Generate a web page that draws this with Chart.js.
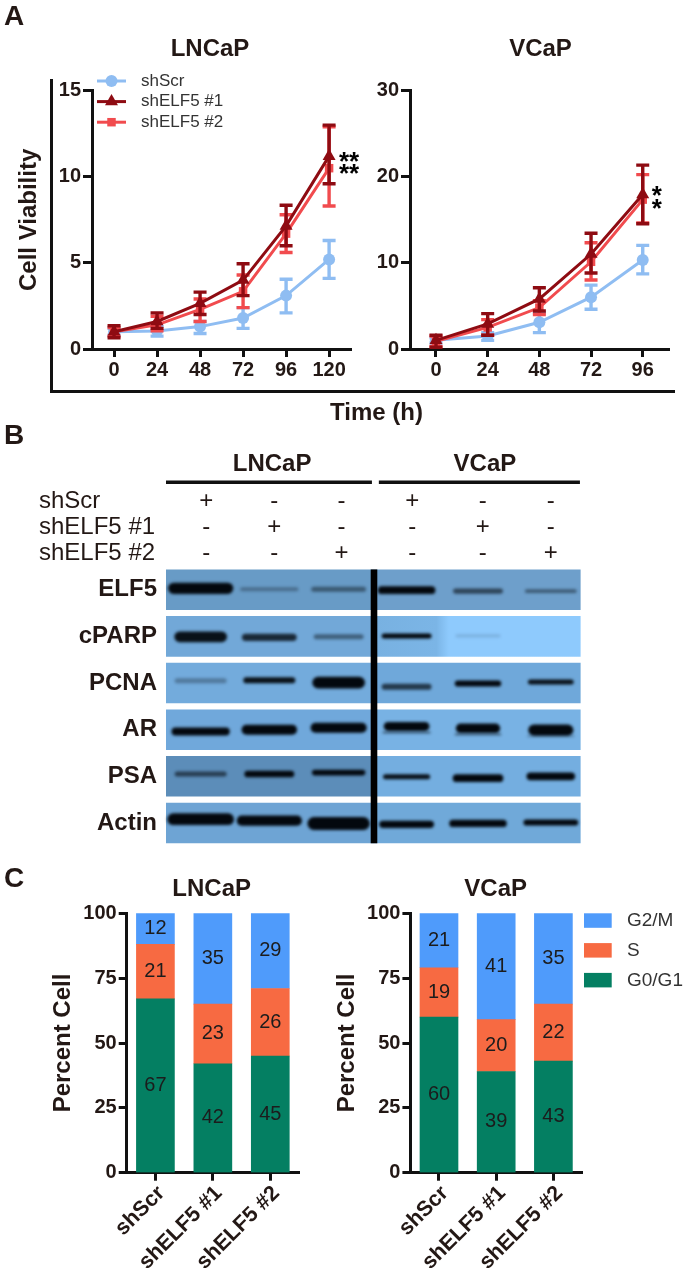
<!DOCTYPE html>
<html lang="en">
<head>
<meta charset="UTF-8">
<title>ELF5 knockdown figure</title>
<script src="https://cdn.jsdelivr.net/npm/chart.js"></script>
<style>
    html, body { margin: 0; padding: 0; background: #fff; }
    #page { position: relative; width: 685px; height: 1272px; overflow: hidden; font-family: "Liberation Sans", Arial, sans-serif; color: #231815; }
    #page canvas { position: absolute; }
    .letter { position: absolute; font-weight: bold; font-size: 28px; line-height: 32px; }
    .line { position: absolute; background: #111; }
</style>
</head>
<body>
<div id="page">
    <canvas id="cellLn"></canvas>
    <canvas id="cellVc"></canvas>
    <canvas id="blot"></canvas>
    <canvas id="cycleLn"></canvas>
    <canvas id="cycleVc"></canvas>
    <div class="line" style="left:50px;top:79px;width:3px;height:314px"></div>
    <div class="line" style="left:50px;top:390px;width:625px;height:3px"></div>
    <div class="letter" style="left:4px;top:0px">A</div>
    <div class="letter" style="left:4px;top:419px">B</div>
    <div class="letter" style="left:4px;top:862px">C</div>
    <div style="position:absolute;left:330px;top:398px;font:bold 24px/28px 'Liberation Sans'">Time (h)</div>
</div>

<script>
    // Panel A: cell viability
    var hoursLn = [0, 24, 48, 72, 96, 120];
    var hoursVc = [0, 24, 48, 72, 96];
    var seriesNames = ['shScr', 'shELF5 #1', 'shELF5 #2'];

    var lnScr = [1.0, 1.05, 1.3, 1.8, 3.1, 5.2];
    var lnScrLow = [0.8, 0.75, 0.9, 1.2, 2.1, 4.1];
    var lnScrHigh = [1.2, 1.3, 1.6, 2.4, 4.05, 6.3];
    var lnOne = [1.0, 1.6, 2.65, 4.0, 7.15, 11.2];
    var lnOneLow = [0.65, 1.2, 2.0, 3.1, 6.0, 9.6];
    var lnOneHigh = [1.35, 2.1, 3.3, 4.95, 8.35, 13.0];
    var lnTwo = [1.0, 1.4, 2.3, 3.35, 6.7, 10.5];
    var lnTwoLow = [0.75, 1.05, 1.6, 2.4, 5.6, 8.3];
    var lnTwoHigh = [1.25, 1.9, 2.9, 4.3, 7.8, 12.9];

    var vcScr = [1.0, 1.5, 3.1, 6.0, 10.3];
    var vcScrLow = [0.7, 1.0, 1.9, 4.6, 8.7];
    var vcScrHigh = [1.3, 1.9, 4.2, 7.4, 12.0];
    var vcOne = [1.0, 2.9, 5.8, 11.0, 17.9];
    var vcOneLow = [0.2, 1.6, 4.4, 8.8, 14.5];
    var vcOneHigh = [1.6, 4.1, 7.1, 13.4, 21.3];
    var vcTwo = [0.9, 2.5, 4.8, 10.1, 17.3];
    var vcTwoLow = [0.3, 1.6, 4.0, 8.0, 14.6];
    var vcTwoHigh = [1.5, 3.4, 5.6, 12.3, 20.2];

    // Panel B: band density, thickness, width and vertical drift per lane
    var blotRows = ['ELF5', 'cPARP', 'PCNA', 'AR', 'PSA', 'Actin'];
    var treatmentRows = ['shScr', 'shELF5 #1', 'shELF5 #2'];
    var scrSigns = ['+', '-', '-', '+', '-', '-'];
    var oneSigns = ['-', '+', '-', '-', '+', '-'];
    var twoSigns = ['-', '-', '+', '-', '-', '+'];

    var elf5Density = [1, 0.3, 0.45, 1, 0.6, 0.45];
    var cparpDensity = [0.95, 0.8, 0.45, 1, 0.12, 0];
    var pcnaDensity = [0.3, 0.95, 1, 0.7, 1, 0.95];
    var arDensity = [1, 1, 1, 1, 1, 1];
    var psaDensity = [0.6, 1, 1, 0.95, 1, 1];
    var actinDensity = [1, 1, 1, 1, 1, 1];

    var elf5Thick = [0.2, 0.07, 0.09, 0.14, 0.09, 0.07];
    var cparpThick = [0.19, 0.13, 0.09, 0.09, 0.06, 0];
    var pcnaThick = [0.09, 0.11, 0.21, 0.11, 0.11, 0.09];
    var arThick = [0.14, 0.18, 0.18, 0.16, 0.17, 0.2];
    var psaThick = [0.09, 0.12, 0.1, 0.09, 0.14, 0.14];
    var actinThick = [0.21, 0.18, 0.23, 0.13, 0.13, 0.11];

    var elf5Width = [0.94, 0.84, 0.79, 0.83, 0.72, 0.75];
    var cparpWidth = [0.76, 0.79, 0.72, 0.72, 0.65, 0];
    var pcnaWidth = [0.75, 0.75, 0.76, 0.72, 0.67, 0.66];
    var arWidth = [0.84, 0.8, 0.81, 0.66, 0.64, 0.65];
    var psaWidth = [0.75, 0.72, 0.77, 0.68, 0.73, 0.7];
    var actinWidth = [0.96, 0.94, 0.9, 0.79, 0.83, 0.79];

    var elf5Drift = [-0.03, -0.01, -0.01, 0.01, 0.03, 0.03];
    var cparpDrift = [0.01, 0.02, 0.01, -0.01, -0.01, 0];
    var pcnaDrift = [-0.05, -0.06, -0.01, 0.08, 0.01, -0.02];
    var arDrift = [0.04, 0, -0.04, -0.07, -0.03, 0.01];
    var psaDrift = [-0.05, -0.05, -0.08, 0.01, 0.04, 0];
    var actinDrift = [-0.08, -0.05, 0.01, 0.03, 0.01, -0.01];

    var arLowerDensity = [0, 0, 0, 0.7, 0.6, 0.3];
    var laneCenters = [0.5, 1.49, 2.49, 3.47, 4.5, 5.55];

    // Panel C: cell cycle
    var cycleGroups = ['shScr', 'shELF5 #1', 'shELF5 #2'];
    var lnG0 = [67, 42, 45];
    var lnS = [21, 23, 26];
    var lnG2 = [12, 35, 29];
    var vcG0 = [60, 39, 43];
    var vcS = [19, 20, 22];
    var vcG2 = [21, 41, 35];

    var INK = '#231815';
    var AXIS = '#111111';
    var SCR_BLUE = '#8FBDF2';
    var DARK_RED = '#8E0B12';
    var LIGHT_RED = '#F14B4E';
    var FONT = '"Liberation Sans"';

    function toPoints(xs, ys) {
        return ys.map(function (y, i) { return { x: xs[i], y: y }; });
    }

    // Puts the canvas on the page and works out the padding that lands the plot area on "area"
    function frame(id, box, area, titleY, yTitleX) {
        var c = document.getElementById(id);
        c.width = box.w;
        c.height = box.h;
        c.style.left = box.x + 'px';
        c.style.top = box.y + 'px';
        var padLeft = yTitleX ? yTitleX - box.x - 14.4 : 0;
        return {
            canvas: c,
            padding: { left: padLeft, right: box.x + box.w - area.r, top: 0, bottom: 0 },
            yWidth: area.l - box.x - padLeft,
            xHeight: box.y + box.h - area.b,
            titlePad: { top: titleY - box.y - 14.4, bottom: area.t - titleY - 14.4 }
        };
    }

    // The title block sits inside the padding, so slide it over to where the figure has it
    function centerTitle(box, titleX) {
        return {
            id: 'centerTitle',
            afterLayout: function (chart) {
                var b = chart.titleBlock;
                var shift = titleX - box.x - (b.left + b.right) / 2;
                b.left += shift;
                b.right += shift;
            }
        };
    }

    function axisBase(tickLength) {
        return {
            border: { display: true, color: AXIS, width: 3 },
            grid: { drawOnChartArea: false, drawTicks: true, tickLength: tickLength, tickColor: AXIS, tickWidth: 3, offset: false }
        };
    }

    // Vertical error bars with caps, drawn just under each dataset
    function errorBars(lows, highs) {
        return {
            id: 'errorBars',
            beforeDatasetDraw: function (chart, args) {
                var ctx = chart.ctx;
                var x = chart.scales.x, y = chart.scales.y;
                var ds = chart.data.datasets[args.index];
                ctx.save();
                ctx.strokeStyle = ds.borderColor;
                ctx.lineWidth = 3.4;
                ds.data.forEach(function (p, i) {
                    var px = x.getPixelForValue(p.x);
                    var top = y.getPixelForValue(highs[args.index][i]);
                    var bot = y.getPixelForValue(lows[args.index][i]);
                    ctx.beginPath();
                    ctx.moveTo(px, top); ctx.lineTo(px, bot);
                    ctx.moveTo(px - 6.5, top); ctx.lineTo(px + 6.5, top);
                    ctx.moveTo(px - 6.5, bot); ctx.lineTo(px + 6.5, bot);
                    ctx.stroke();
                });
                ctx.restore();
            }
        };
    }

    function stars(text, xValue, shift, yValues) {
        return {
            id: 'stars',
            afterDatasetsDraw: function (chart) {
                var ctx = chart.ctx;
                ctx.save();
                ctx.font = 'bold 26px ' + FONT;
                ctx.fillStyle = '#000';
                ctx.textAlign = 'center';
                ctx.textBaseline = 'alphabetic';
                yValues.forEach(function (v) {
                    ctx.fillText(text, chart.scales.x.getPixelForValue(xValue) + shift, chart.scales.y.getPixelForValue(v) + 14);
                });
                ctx.restore();
            }
        };
    }

    // Legend with a line and a marker, as in the GraphPad original
    var lineLegend = {
        id: 'lineLegend',
        afterDraw: function (chart) {
            var ctx = chart.ctx;
            ctx.save();
            chart.data.datasets.forEach(function (ds, i) {
                var y = 81 + i * 20.6;
                ctx.strokeStyle = ds.borderColor;
                ctx.fillStyle = ds.borderColor;
                ctx.lineWidth = 3;
                ctx.beginPath();
                ctx.moveTo(97, y); ctx.lineTo(126, y);
                ctx.stroke();
                Chart.helpers.drawPoint(ctx, { pointStyle: ds.pointStyle, radius: ds.pointRadius, rotation: 0, borderWidth: 0 }, 111.5, y);
                ctx.fillStyle = '#333';
                ctx.font = '17px ' + FONT;
                ctx.textBaseline = 'middle';
                ctx.fillText(ds.label, 141, y);
            });
            ctx.restore();
        }
    };

    function lineChart(id, box, area, title, titleX, xs, xMin, xMax, yMax, yStep, yTitleX, sets, plugins) {
        var f = frame(id, box, area, 49.5, yTitleX);
        var xAxis = axisBase(8);
        xAxis.type = 'linear';
        xAxis.min = xMin;
        xAxis.max = xMax;
        xAxis.afterFit = function (s) { s.height = f.xHeight; };
        xAxis.afterBuildTicks = function (s) { s.ticks = xs.map(function (v) { return { value: v }; }); };
        xAxis.ticks = { font: { family: FONT, size: 20, weight: 'bold' }, color: INK, padding: 1, maxRotation: 0, autoSkip: false };
        var yAxis = axisBase(9);
        yAxis.min = 0;
        yAxis.max = yMax;
        yAxis.afterFit = function (s) { s.width = f.yWidth; };
        yAxis.ticks = { stepSize: yStep, font: { family: FONT, size: 20, weight: 'bold' }, color: INK, padding: 2 };
        yAxis.title = { display: !!yTitleX, text: 'Cell Viability', color: INK, font: { family: FONT, size: 24, weight: 'bold', lineHeight: 1.2 }, padding: 0 };
        return new Chart(f.canvas, {
            type: 'line',
            data: {
                datasets: sets.map(function (s, i) {
                    return {
                        label: seriesNames[i],
                        data: toPoints(xs, s),
                        borderColor: [SCR_BLUE, DARK_RED, LIGHT_RED][i],
                        backgroundColor: [SCR_BLUE, DARK_RED, LIGHT_RED][i],
                        pointStyle: ['circle', 'triangle', 'rect'][i],
                        pointRadius: [6, 7.5, 6][i],
                        pointBorderWidth: 0,
                        borderWidth: 3,
                        tension: 0,
                        clip: false,
                        order: [3, 1, 2][i]
                    };
                })
            },
            options: {
                responsive: false,
                animation: false,
                layout: { padding: f.padding },
                plugins: {
                    legend: { display: false },
                    tooltip: { enabled: false },
                    title: { display: true, text: title, color: INK, font: { family: FONT, size: 24, weight: 'bold', lineHeight: 1.2 }, padding: f.titlePad }
                },
                scales: { x: xAxis, y: yAxis }
            },
            plugins: plugins.concat([centerTitle(box, titleX)])
        });
    }

    lineChart('cellLn', { x: 0, y: 0, w: 420, h: 400 }, { l: 92, t: 90.7, r: 351.5, b: 349 }, 'LNCaP', 210, hoursLn, -12.3, 132.5, 15, 5, 29, [lnScr, lnOne, lnTwo],
        [errorBars([lnScrLow, lnOneLow, lnTwoLow], [lnScrHigh, lnOneHigh, lnTwoHigh]), stars('**', 120, 20, [11.2, 10.5]), lineLegend]);

    lineChart('cellVc', { x: 370, y: 0, w: 342, h: 400 }, { l: 410, t: 90, r: 669, b: 349 }, 'VCaP', 540.5, hoursVc, -12.07, 108.2, 30, 10, 0, [vcScr, vcOne, vcTwo],
        [errorBars([vcScrLow, vcOneLow, vcTwoLow], [vcScrHigh, vcOneHigh, vcTwoHigh]), stars('*', 96, 14, [18.4, 16.9])]);

    // Panel B
    var bandTable = [
        { d: elf5Density, t: elf5Thick, w: elf5Width, s: elf5Drift },
        { d: cparpDensity, t: cparpThick, w: cparpWidth, s: cparpDrift },
        { d: pcnaDensity, t: pcnaThick, w: pcnaWidth, s: pcnaDrift },
        { d: arDensity, t: arThick, w: arWidth, s: arDrift },
        { d: psaDensity, t: psaThick, w: psaWidth, s: psaDrift },
        { d: actinDensity, t: actinThick, w: actinWidth, s: actinDrift }
    ];

    function drawBand(ctx, x, y, row, center, span, drift, thick, density) {
        if (density <= 0 || span <= 0) { return; }
        var left = x.getPixelForValue(center - span / 2);
        var right = x.getPixelForValue(center + span / 2);
        var mid = y.getPixelForValue(row + drift);
        var h = 1.2 * Math.abs(y.getPixelForValue(row + thick) - y.getPixelForValue(row));
        ctx.fillStyle = 'rgba(3,8,14,' + density + ')';
        ctx.beginPath();
        ctx.roundRect(left, mid - h / 2, right - left, h, h / 2);
        ctx.fill();
    }

    var blotMarks = {
        id: 'blotMarks',
        afterDatasetsDraw: function (chart) {
            var ctx = chart.ctx;
            var x = chart.scales.x, y = chart.scales.y;
            ctx.save();
            ctx.filter = 'blur(1.6px)';
            bandTable.forEach(function (r, row) {
                laneCenters.forEach(function (c, lane) {
                    drawBand(ctx, x, y, row, c, r.w[lane], r.s[lane], r.t[lane], r.d[lane]);
                });
            });
            laneCenters.forEach(function (c, lane) {
                drawBand(ctx, x, y, 3, c, arWidth[lane] * 1.05, arDrift[lane] + 0.13, 0.03, arLowerDensity[lane]);
            });
            ctx.filter = 'none';

            // black divider between the two cell lines
            var top = y.getPixelForValue(0) - 20.3;
            var bottom = y.getPixelForValue(5) + 20.3;
            ctx.fillStyle = '#000';
            ctx.fillRect(x.getPixelForValue(3) - 3.3, top, 6.6, bottom - top);

            // header bars and cell line names
            var lineY = 50.5;
            ctx.fillStyle = '#111';
            ctx.fillRect(x.getPixelForValue(0), lineY, x.getPixelForValue(2.97) - x.getPixelForValue(0), 3.5);
            ctx.fillRect(x.getPixelForValue(3.07), lineY, x.getPixelForValue(5.97) - x.getPixelForValue(3.07), 3.5);
            ctx.fillStyle = INK;
            ctx.textBaseline = 'middle';
            ctx.textAlign = 'center';
            ctx.font = 'bold 24px ' + FONT;
            ctx.fillText('LNCaP', x.getPixelForValue(1.53), 34);
            ctx.fillText('VCaP', x.getPixelForValue(4.6), 34);

            // treatment table
            ctx.font = '24px ' + FONT;
            [scrSigns, oneSigns, twoSigns].forEach(function (signs, i) {
                var rowY = 71 + i * 26;
                ctx.textAlign = 'left';
                ctx.fillText(treatmentRows[i], 39, rowY);
                ctx.textAlign = 'center';
                signs.forEach(function (s, lane) {
                    ctx.fillText(s, x.getPixelForValue(laneCenters[lane] + [0.08, 0.07, 0.04, 0.08, 0.07, 0][lane]), rowY);
                });
            });
            ctx.restore();
        }
    };

    var lnMembrane = ['#689BC6', '#72A8D8', '#73ABDC', '#70A8DB', '#5C8DB9', '#6EA4D4'];
    var vcMembrane = ['#6E9FCB', '#8ECAFD', '#6FA8DA', '#78B2E4', '#74AEE0', '#70A9D9'];

    function vcColor(c) {
        var chart = c.chart;
        if (c.dataIndex === 1 && chart.chartArea) {
            var x = chart.scales.x;
            var g = chart.ctx.createLinearGradient(x.getPixelForValue(3), 0, x.getPixelForValue(6), 0);
            g.addColorStop(0, '#78B1E1');
            g.addColorStop(0.3, '#7BB5E6');
            g.addColorStop(0.36, '#8ECAFD');
            g.addColorStop(1, '#8ECAFD');
            return g;
        }
        return vcMembrane[c.dataIndex];
    }

    var blotFrame = frame('blot', { x: 0, y: 430, w: 685, h: 450 }, { l: 166, t: 566.4, r: 582, b: 846.3 }, 0, 0);
    new Chart(blotFrame.canvas, {
        type: 'bar',
        data: {
            labels: blotRows,
            datasets: [
                { label: 'LNCaP', data: blotRows.map(function () { return [0, 3]; }), backgroundColor: lnMembrane, barPercentage: 0.87, categoryPercentage: 1, grouped: false },
                { label: 'VCaP', data: blotRows.map(function () { return [3, 5.98]; }), backgroundColor: vcColor, barPercentage: 0.87, categoryPercentage: 1, grouped: false }
            ]
        },
        options: {
            indexAxis: 'y',
            responsive: false,
            animation: false,
            layout: { padding: { left: 0, right: blotFrame.padding.right, top: 136.4, bottom: 33.7 } },
            plugins: { legend: { display: false }, tooltip: { enabled: false } },
            scales: {
                x: { type: 'linear', min: 0, max: 6, display: false },
                y: {
                    afterFit: function (s) { s.width = 166; },
                    border: { display: false },
                    grid: { display: false, drawTicks: false },
                    ticks: { font: { family: FONT, size: 24, weight: 'bold' }, color: INK, padding: 9 }
                }
            }
        },
        plugins: [blotMarks]
    });

    // Panel C
    var barValues = {
        id: 'barValues',
        afterDatasetsDraw: function (chart) {
            var ctx = chart.ctx;
            ctx.save();
            ctx.font = '20px ' + FONT;
            ctx.fillStyle = '#1c1c1c';
            ctx.textAlign = 'center';
            ctx.textBaseline = 'middle';
            chart.data.datasets.forEach(function (ds, d) {
                chart.getDatasetMeta(d).data.forEach(function (bar, i) {
                    var p = bar.getCenterPoint();
                    ctx.fillText(ds.data[i], p.x, p.y);
                });
            });
            ctx.restore();
        }
    };

    var swatchLegend = {
        id: 'swatchLegend',
        afterDraw: function (chart) {
            var ctx = chart.ctx;
            ctx.save();
            ctx.font = '19px ' + FONT;
            ctx.textBaseline = 'middle';
            chart.data.datasets.slice().reverse().forEach(function (ds, i) {
                var y = 53.3 + i * 29.8;
                ctx.fillStyle = ds.backgroundColor;
                ctx.fillRect(278, y, 27.7, 14.5);
                ctx.fillStyle = '#333';
                ctx.fillText(ds.label, 321, y + 7.5);
            });
            ctx.restore();
        }
    };

    function cycleChart(id, box, area, title, titleX, yTitleX, g0, s, g2, plugins) {
        var f = frame(id, box, area, 889, yTitleX);
        var xAxis = axisBase(8);
        xAxis.afterFit = function (a) { a.height = f.xHeight; };
        xAxis.ticks = { font: { family: FONT, size: 21.5, weight: 'bold' }, color: INK, padding: 0, labelOffset: 6, minRotation: 45, maxRotation: 45, autoSkip: false };
        var yAxis = axisBase(8);
        yAxis.min = 0;
        yAxis.max = 100;
        yAxis.afterFit = function (a) { a.width = f.yWidth; };
        yAxis.ticks = { stepSize: 25, font: { family: FONT, size: 20, weight: 'bold' }, color: INK, padding: 2 };
        yAxis.title = { display: true, text: 'Percent Cell', color: INK, font: { family: FONT, size: 24, weight: 'bold', lineHeight: 1.2 }, padding: 0 };
        return new Chart(f.canvas, {
            type: 'bar',
            data: {
                labels: cycleGroups,
                datasets: [
                    { label: 'G0/G1', data: g0, backgroundColor: '#047F62', stack: 'a', barThickness: 38 },
                    { label: 'S', data: s, backgroundColor: '#F76A42', stack: 'a', barThickness: 38 },
                    { label: 'G2/M', data: g2, backgroundColor: '#4F9BFB', stack: 'a', barThickness: 38 }
                ]
            },
            options: {
                responsive: false,
                animation: false,
                layout: { padding: f.padding },
                plugins: {
                    legend: { display: false },
                    tooltip: { enabled: false },
                    title: { display: true, text: title, color: INK, font: { family: FONT, size: 24, weight: 'bold', lineHeight: 1.2 }, padding: f.titlePad }
                },
                scales: { x: Object.assign(xAxis, { stacked: true }), y: Object.assign(yAxis, { stacked: true }) }
            },
            plugins: plugins.concat([centerTitle(box, titleX)])
        });
    }

    cycleChart('cycleLn', { x: 0, y: 860, w: 424, h: 412 }, { l: 126.7, t: 913.3, r: 299, b: 1172.7 }, 'LNCaP', 211.7, 63, lnG0, lnS, lnG2, [barValues]);
    cycleChart('cycleVc', { x: 306, y: 860, w: 380, h: 412 }, { l: 410.4, t: 913.3, r: 582, b: 1172.7 }, 'VCaP', 495.7, 347, vcG0, vcS, vcG2, [barValues, swatchLegend]);
</script>
</body>
</html>
